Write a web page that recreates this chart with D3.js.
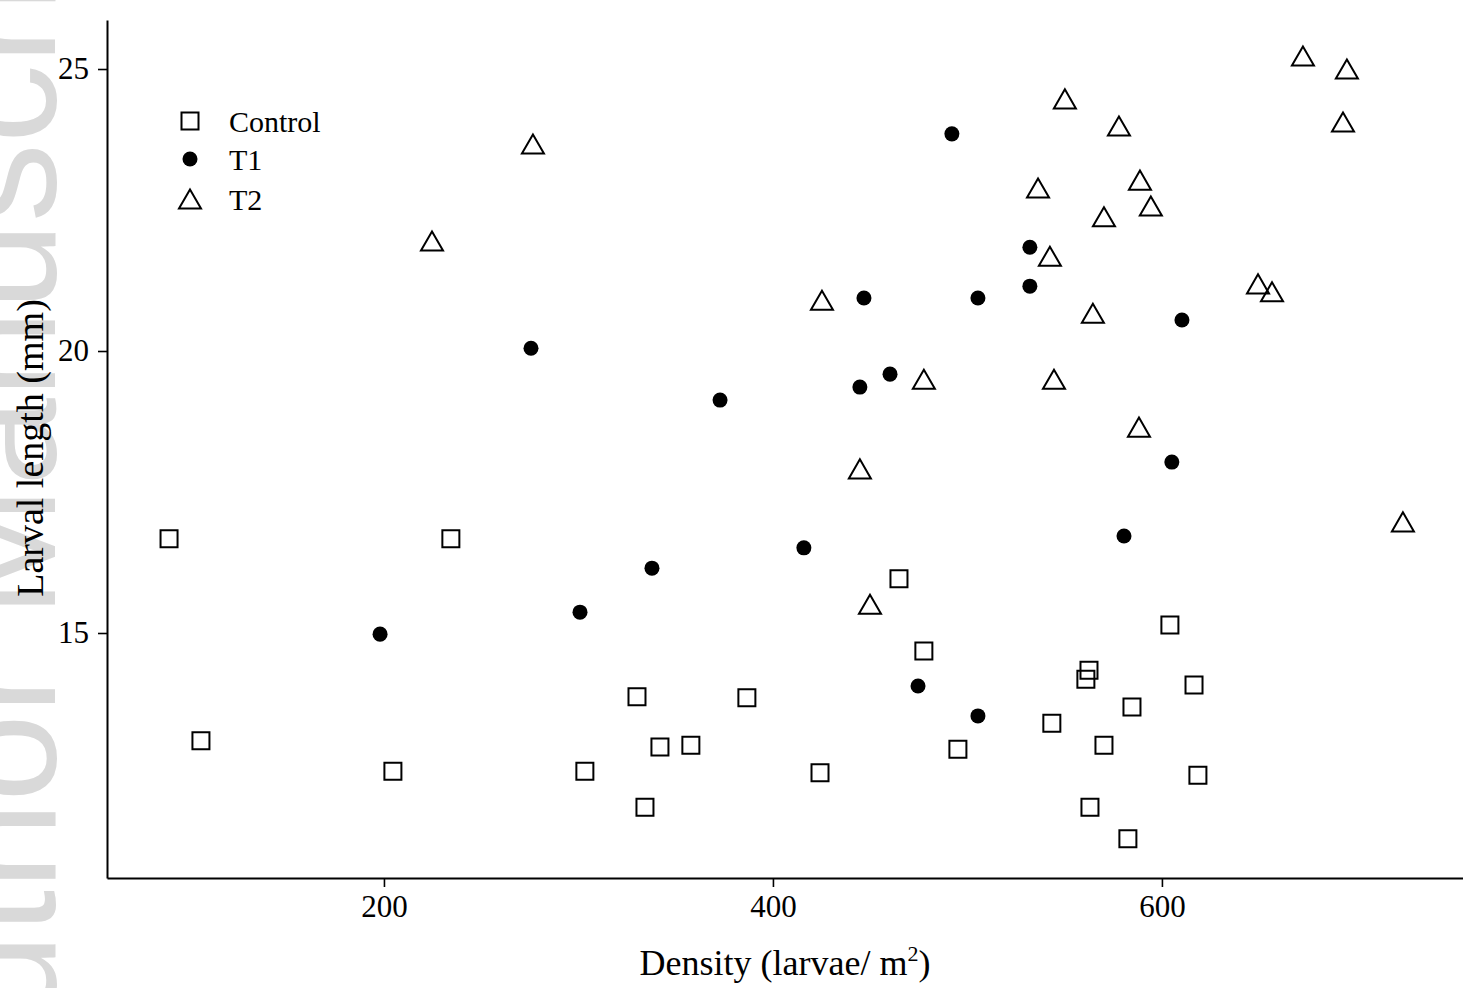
<!DOCTYPE html>
<html>
<head>
<meta charset="utf-8">
<script src="https://cdn.jsdelivr.net/npm/d3@7"></script>
<style>
    body { margin: 0; background: #fff; }
    text { font-family: "Liberation Serif", "Times New Roman", serif; fill: #000; }
</style>
</head>
<body>
<div id="my_dataviz"></div>
<script>
// data
var controlX = [89.5, 105.9, 204.6, 234.4, 303.3, 330.1, 334.2, 341.9, 357.8, 386.6, 424.2, 464.8,
                477.6, 495.1, 543.4, 562.5, 560.9, 563.0, 570.2, 582.5, 584.6, 604.1, 616.5, 618.5];
var controlY = [16.67, 13.09, 12.55, 16.67, 12.55, 13.87, 11.91, 12.98, 13.01, 13.85, 12.52, 15.96,
                14.68, 12.94, 13.40, 14.34, 14.18, 11.91, 13.01, 11.35, 13.69, 15.14, 14.08, 12.48];
var t1X = [198.0, 275.6, 300.8, 337.8, 372.8, 415.9, 444.7, 446.8, 460.2, 474.6, 492.0, 505.4,
           505.4, 532.1, 532.1, 580.5, 605.1, 610.3];
var t1Y = [14.98, 20.05, 15.37, 16.15, 19.13, 16.51, 19.36, 20.94, 19.59, 14.06, 23.85, 20.94,
           13.53, 21.84, 21.15, 16.72, 18.03, 20.55];
var t2X = [224.7, 276.6, 425.2, 444.7, 449.9, 477.6, 536.3, 542.4, 544.5, 550.1, 564.5, 570.2,
           577.9, 588.2, 588.7, 594.3, 649.4, 656.6, 672.5, 693.1, 695.1, 723.9];
var t2Y = [21.95, 23.67, 20.90, 17.91, 15.51, 19.50, 22.89, 21.68, 19.50, 24.47, 20.67, 22.38,
           23.99, 18.65, 23.03, 22.57, 21.19, 21.05, 25.23, 24.06, 25.00, 16.97];
var groups = ["Control", "T1", "T2"];
var xTicks = [200, 400, 600];
var yTicks = [15, 20, 25];

var W = 1463, H = 988;
var margin = {top: 20, right: 0, bottom: 110, left: 107},
    width = W - margin.left - margin.right,
    height = H - margin.top - margin.bottom;

var svg = d3.select("#my_dataviz")
  .append("svg")
    .attr("width", W)
    .attr("height", H);

// faint watermark on the left edge (cut off in the original too)
svg.append("text")
    .attr("transform", "translate(55,1127) rotate(-90)")
    .style("font-family", "'Liberation Sans', Arial, sans-serif")
    .style("font-size", "158px")
    .style("fill", "#d9d9d9")
    .text("Author Manuscript");

var g = svg.append("g")
    .attr("transform", "translate(" + margin.left + "," + margin.top + ")");

var x = d3.scaleLinear().domain([57.6, 754.8]).range([0, width]);
var y = d3.scaleLinear().domain([10.656, 25.869]).range([height, 0]);

var xAxis = g.append("g")
    .attr("transform", "translate(0," + height + ")")
    .call(d3.axisBottom(x).tickValues(xTicks).tickSize(9).tickSizeOuter(0).tickPadding(8));
var yAxis = g.append("g")
    .call(d3.axisLeft(y).tickValues(yTicks).tickSize(9).tickSizeOuter(0).tickPadding(9));

[xAxis, yAxis].forEach(function(a) {
  a.select(".domain").attr("stroke", "#000").attr("stroke-width", 2);
  a.selectAll(".tick line").attr("stroke", "#000").attr("stroke-width", 1.6);
  a.selectAll(".tick text")
    .style("font-family", "'Liberation Serif', serif")
    .style("font-size", "31px")
    .attr("fill", "#000");
});

// open triangle centred on its box rather than its centroid
var boxTriangle = {
  draw: function(ctx, size) {
    var s = Math.sqrt(size * 4 / Math.sqrt(3)), h = s * Math.sqrt(3) / 2;
    ctx.moveTo(0, -h / 2);
    ctx.lineTo(s / 2, h / 2);
    ctx.lineTo(-s / 2, h / 2);
    ctx.closePath();
  }
};
var sym = {
  Control: d3.symbol(d3.symbolSquare, 289)(),
  T1: d3.symbol(d3.symbolCircle, 177)(),
  T2: d3.symbol(boxTriangle, 210)()
};
function styleMark(sel, grp) {
  if (grp === "T1") sel.attr("fill", "#000").attr("stroke", "none");
  else sel.attr("fill", "none").attr("stroke", "#000").attr("stroke-width", 2);
}

var series = [
  {name: "Control", xs: controlX, ys: controlY},
  {name: "T1", xs: t1X, ys: t1Y},
  {name: "T2", xs: t2X, ys: t2Y}
];
series.forEach(function(s) {
  var pts = s.xs.map(function(v, i) { return [v, s.ys[i]]; });
  g.append("g").selectAll("path")
    .data(pts)
    .enter().append("path")
      .attr("d", sym[s.name])
      .attr("transform", function(d) { return "translate(" + x(d[0]) + "," + y(d[1]) + ")"; })
      .call(styleMark, s.name);
});

// legend
var leg = svg.append("g").attr("transform", "translate(190,121)");
groups.forEach(function(name, i) {
  var row = leg.append("g").attr("transform", "translate(0," + [0, 38, 78][i] + ")");
  row.append("path").attr("d", sym[name]).call(styleMark, name);
  row.append("text").attr("x", 39).attr("dy", "0.35em")
    .style("font-size", "30px").text(name);
});

// axis titles
var xt = svg.append("text")
    .attr("x", 785).attr("y", 975)
    .attr("text-anchor", "middle")
    .style("font-size", "36px");
xt.append("tspan").text("Density (larvae/ m");
xt.append("tspan").attr("dy", -14).style("font-size", "22px").text("2");
xt.append("tspan").attr("dy", 14).text(")");

svg.append("text")
    .attr("transform", "translate(43,448) rotate(-90)")
    .attr("text-anchor", "middle")
    .style("font-size", "38px")
    .text("Larval length (mm)");
</script>
</body>
</html>
